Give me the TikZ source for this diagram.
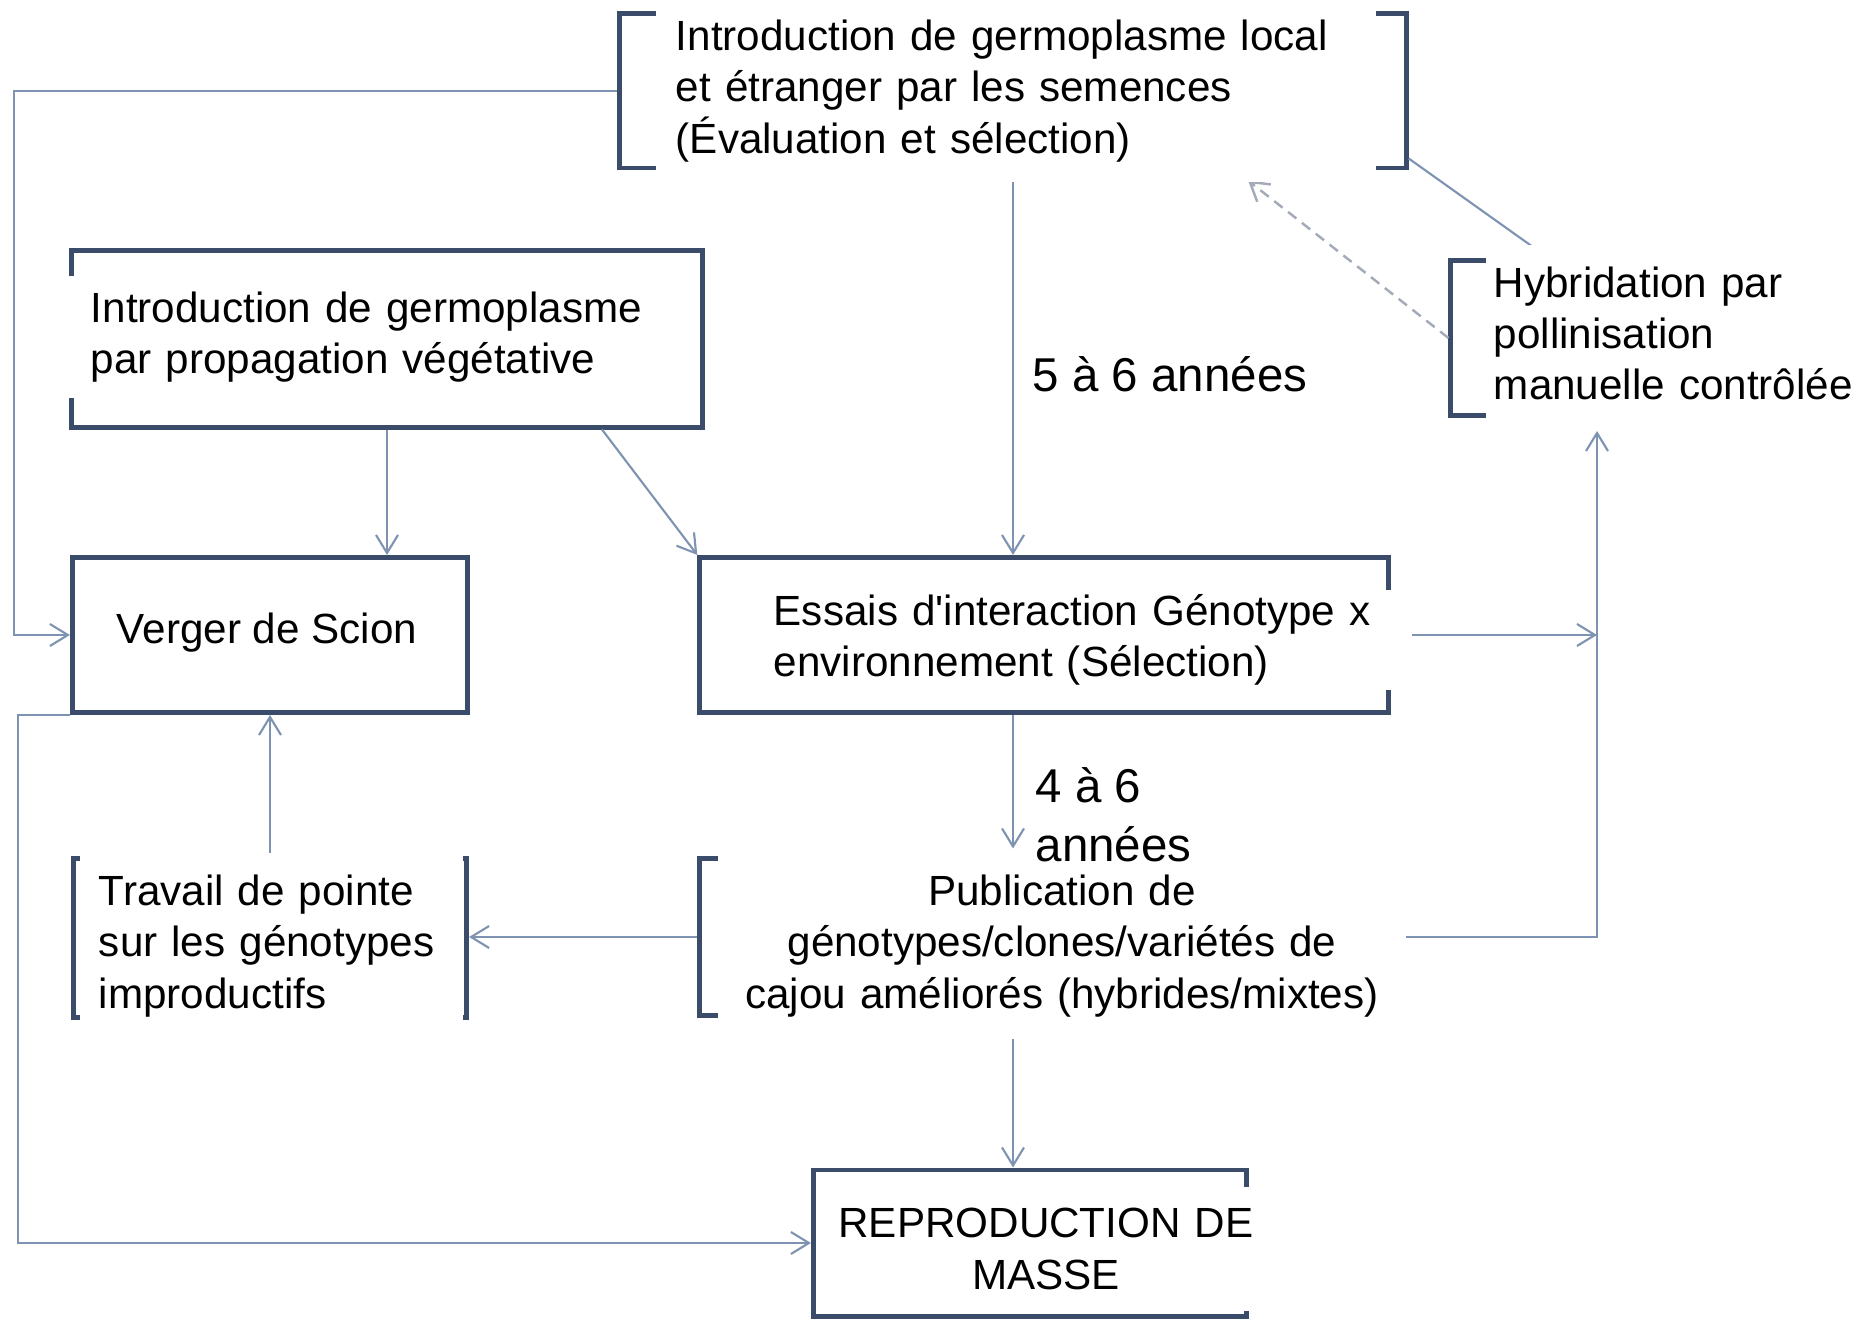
\documentclass[tikz,border=0pt]{standalone}
\usepackage{fontspec}
\setmainfont{Liberation Sans}
\usepackage{xcolor}
\usetikzlibrary{arrows.meta}
\usetikzlibrary{calc}

\definecolor{framecol}{HTML}{3B4C6B}
\definecolor{linecol}{HTML}{7E93B2}
\definecolor{dashcol}{HTML}{A3ABB8}

\begin{document}
\begin{tikzpicture}
  [x=0.01cm, y=-0.01cm,
   frame/.style={draw=framecol, line width=1.4pt, inner sep=0pt},
   patch/.style={fill=white, inner ysep=0pt, font=\fontsize{12}{14.6}\selectfont},
   years/.style={inner sep=0pt, font=\fontsize{13.5}{16.7}\selectfont},
   conn/.style={draw=linecol, line width=0.6pt, -{Straight Barb[length=1.8mm,width=2.2mm]}},
   link/.style={draw=linecol, line width=0.6pt},
   back/.style={draw=dashcol, line width=0.7pt, dash pattern=on 3pt off 2pt, -{Straight Barb[length=1.8mm,width=2.2mm]}}]
  \useasboundingbox (0,0) rectangle (1876,1322);

  % box outlines
  \node[frame, minimum width=7.86cm, minimum height=1.54cm] (afr) at (1013,91) {};
  \node[frame, minimum width=6.30cm, minimum height=1.76cm] (bfr) at (387,339) {};
  \node[frame, minimum width=3.95cm, minimum height=1.55cm] (cfr) at (270,635) {};
  \node[frame, minimum width=6.88cm, minimum height=1.55cm] (dfr) at (1044,635) {};
  \node[frame, minimum width=3.94cm, minimum height=1.55cm] (efr) at (1648,338) {};
  \node[frame, minimum width=3.93cm, minimum height=1.58cm] (ffr) at (270,938) {};
  \node[frame, minimum width=6.88cm, minimum height=1.56cm] (gfr) at (1044,937) {};
  \node[frame, minimum width=4.33cm, minimum height=1.46cm] (hfr) at (1030,1243) {};

  \coordinate (lftA) at (14,0);
  \coordinate (lftB) at (18,0);
  \coordinate (spine) at (1013,0);
  \coordinate (rail) at (1597,431);

  % connectors
  \draw[conn] (afr.west) -- (afr.west -| lftA) |- (cfr.west);
  \draw[conn] (afr.south -| spine) -- (dfr.north -| spine);
  \draw[link] ($(afr.south east)+(0,-12)$) -- ($(efr.north west)+(100,0)$);
  \draw[back] (efr.west) -- ($(afr.south)+(235,10)$);
  \draw[conn] (bfr.south) -- (bfr.south |- cfr.north);
  \draw[conn] ($(bfr.south)+(215,0)$) -- (dfr.north west);
  \draw[conn] (dfr.east) -- (dfr.east -| rail);
  \draw[conn] (gfr.east) -| (rail);
  \draw[conn] (gfr.west) -- (gfr.west -| ffr.east);
  \draw[conn] (ffr.north) -- (cfr.south);
  \draw[conn] (cfr.south west) -- (cfr.south west -| lftB) |- (hfr.west);
  \draw[conn] (gfr.south -| spine) -- (hfr.north -| spine);

  % texts
  \node[patch, text width=6.8cm, inner xsep=0.2cm, minimum height=1.82cm, align=left] (a) at (1016,91)
    {Introduction de germoplasme local\\et étranger par les semences\\(Évaluation et sélection)};
  \node[patch, text width=5.72cm, inner xsep=0.27cm, minimum height=1.22cm, align=left] (b) at (377,337)
    {Introduction de germoplasme\\par propagation végétative};
  \node[patch, inner xsep=2pt] (c) at (267,633) {Verger de Scion};
  \node[patch, text width=6.1cm, inner xsep=0.28cm, minimum height=1.0cm, align=left] (d) at (1079,640)
    {Essais d\textquotesingle interaction Génotype x\\environnement (Sélection)};
  \node[patch, text width=3.66cm, inner xsep=0.08cm, minimum height=1.77cm, align=left] (e) at (1677,333.5)
    {Hybridation par\\pollinisation\\manuelle contrôlée};
  \node[patch, text width=3.45cm, inner xsep=0.19cm, minimum height=1.85cm, align=left] (f) at (271.5,946)
    {Travail de pointe\\sur les génotypes\\improductifs};
  \node[patch, text width=6.68cm, inner xsep=0.1cm, minimum height=1.86cm, align=center] (g) at (1062,946)
    {Publication de\\génotypes/clones/variétés de\\cajou améliorés (hybrides/mixtes)};
  \node[patch, text width=4.22cm, inner xsep=0.05cm, minimum height=1.23cm, align=center] (h) at (1046,1249)
    {REPRODUCTION DE\\MASSE};

  \draw[conn, shorten >=0.08cm] (dfr.south -| spine) -- (gfr.north -| spine);

  \node[years, anchor=west] (y56) at (1032,374) {5 à 6 années};
  \node[years, anchor=west, align=left] (y46) at (1035,815) {4 à 6\\années};
\end{tikzpicture}
\end{document}
